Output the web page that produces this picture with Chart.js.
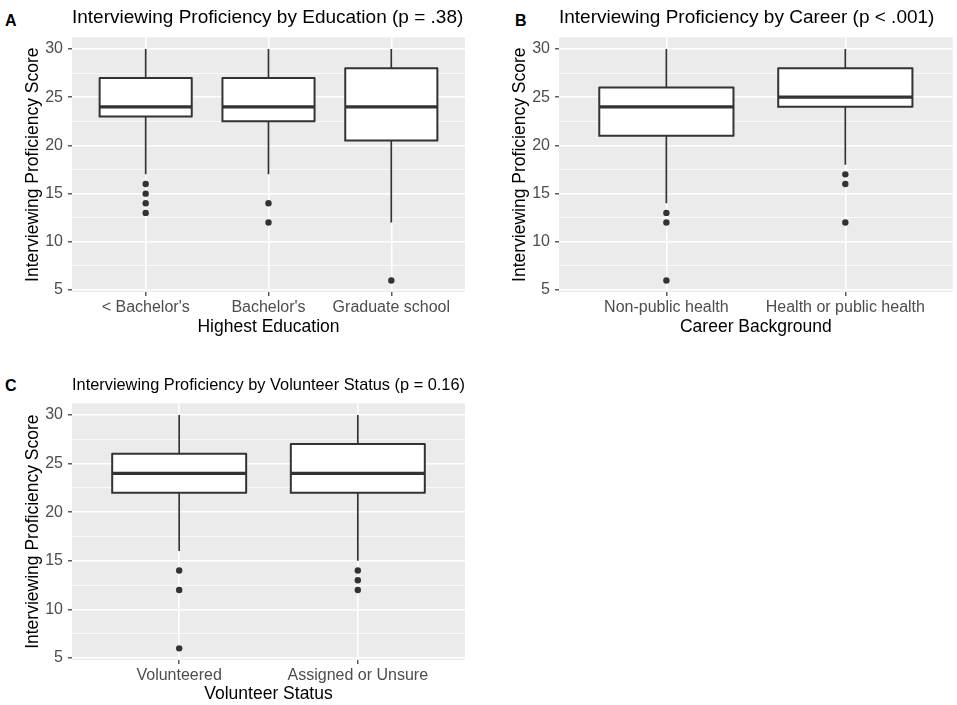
<!DOCTYPE html>
<html>
<head>
<meta charset="utf-8">
<script src="https://cdn.jsdelivr.net/npm/chart.js@4.4.0/dist/chart.umd.min.js"></script>
<style>
  body { margin: 0; background: #fff; width: 957px; height: 705px; position: relative; overflow: hidden;
         font-family: 'Liberation Sans', Arial, sans-serif; }
  .panel { position: absolute; }
  .tag { position: absolute; font-weight: bold; font-size: 16px; line-height: 16px; color: #000; }
</style>
</head>
<body>
<div class="tag" style="left:5px;top:12.5px">A</div>
<div class="tag" style="left:515px;top:12.5px">B</div>
<div class="tag" style="left:5px;top:378px">C</div>
<div class="panel" style="left:0;top:0;width:478px;height:345px"><canvas id="chartA"></canvas></div>
<div class="panel" style="left:478px;top:0;width:479px;height:345px"><canvas id="chartB"></canvas></div>
<div class="panel" style="left:0;top:355px;width:478px;height:350px"><canvas id="chartC"></canvas></div>
<script>
// A: by highest education
const eduCats = ["< Bachelor's", "Bachelor's", "Graduate school"];
const eduMin = [17, 17, 12];
const eduQ1 = [23, 22.5, 20.5];
const eduMed = [24, 24, 24];
const eduQ3 = [27, 27, 28];
const eduMax = [30, 30, 30];
const eduOut = [[16, 15, 14, 13], [14, 12], [6]];

// B: by career background
const carCats = ['Non-public health', 'Health or public health'];
const carMin = [14, 18];
const carQ1 = [21, 24];
const carMed = [24, 25];
const carQ3 = [26, 28];
const carMax = [30, 30];
const carOut = [[13, 12, 6], [17, 16, 12]];

// C: by volunteer status
const volCats = ['Volunteered', 'Assigned or Unsure'];
const volMin = [16, 15];
const volQ1 = [22, 22];
const volMed = [24, 24];
const volQ3 = [26, 27];
const volMax = [30, 30];
const volOut = [[14, 12, 6], [14, 13, 12]];

const yTicks = [5, 10, 15, 20, 25, 30];
// minor grid lines half way between the labelled ticks
const yGrid = yTicks.flatMap((v, i) => i ? [v - 2.5, v] : [v]);

Chart.defaults.font.family = "'Liberation Sans', Arial, sans-serif";

const DARK = '#333333';
const HALF_BOX = 0.375;

// grey panel behind the grid, like ggplot
const panelBg = {
  id: 'panelBg',
  beforeDraw(chart) {
    const { ctx, chartArea: a } = chart;
    ctx.save();
    ctx.fillStyle = '#EBEBEB';
    ctx.fillRect(a.left, a.top, a.width, a.height);
    ctx.restore();
  }
};

function boxDatasets(cats, lo, q1, med, q3, hi, out) {
  const sets = [];
  const whiskers = [];
  const medians = [];
  const points = [];
  cats.forEach((c, i) => {
    const x = i + 1;
    whiskers.push({ x, y: hi[i] }, { x, y: q3[i] }, { x, y: null },
                  { x, y: q1[i] }, { x, y: lo[i] }, { x, y: null });
    medians.push({ x: x - HALF_BOX, y: med[i] }, { x: x + HALF_BOX, y: med[i] }, { x, y: null });
    out[i].forEach(v => points.push({ x, y: v }));
    sets.push({
      data: [
        { x: x - HALF_BOX, y: q1[i] }, { x: x + HALF_BOX, y: q1[i] },
        { x: x + HALF_BOX, y: q3[i] }, { x: x - HALF_BOX, y: q3[i] },
        { x: x - HALF_BOX, y: q1[i] }
      ],
      fill: 'shape', backgroundColor: '#fff', borderColor: DARK, borderWidth: 2,
      borderCapStyle: 'square', borderJoinStyle: 'round', pointRadius: 0, order: 2
    });
  });
  sets.push({ data: whiskers, borderColor: DARK, borderWidth: 1.7, pointRadius: 0, fill: false, order: 3 });
  sets.push({ data: medians, borderColor: DARK, borderWidth: 3.2, pointRadius: 0, fill: false, order: 1 });
  sets.push({ data: points, showLine: false, pointRadius: 3.2, pointBackgroundColor: DARK,
              pointBorderWidth: 0, order: 0 });
  return sets;
}

function drawPanel(id, cats, datasets, cfg) {
  new Chart(document.getElementById(id), {
    type: 'line',
    data: { datasets: datasets },
    options: {
      responsive: true,
      maintainAspectRatio: false,
      animation: false,
      events: [],
      layout: { padding: { left: 0, right: cfg.padRight, top: 0, bottom: 0 } },
      plugins: {
        legend: { display: false },
        tooltip: { enabled: false },
        title: {
          display: true, text: cfg.title, align: 'start', fullSize: false, color: '#000',
          font: { size: cfg.titleSize, weight: 'normal' },
          padding: { top: cfg.titleTop, bottom: cfg.titleBottom }
        }
      },
      scales: {
        x: {
          type: 'linear',
          min: 0.4,
          max: cats.length + 0.6,
          afterBuildTicks: s => { s.ticks = cats.map((c, i) => ({ value: i + 1 })); },
          afterFit: s => { s.height = cfg.xHeight; },
          ticks: { callback: v => cats[v - 1], color: '#4D4D4D', font: { size: 16 },
                   padding: 1.5, maxRotation: 0, autoSkip: false },
          grid: { color: '#fff', lineWidth: 1.6, tickColor: DARK, tickLength: 4, tickWidth: 1.2 },
          border: { display: false },
          title: { display: true, text: cfg.xTitle, color: '#000', font: { size: 17.5 },
                   padding: { top: 0, bottom: cfg.xTitleBottom } }
        },
        y: {
          type: 'linear',
          min: 4.8,
          max: 31.2,
          afterBuildTicks: s => { s.ticks = yGrid.map(v => ({ value: v })); },
          afterFit: s => { s.width = cfg.yWidth; },
          ticks: { callback: v => yTicks.includes(v) ? String(v) : '', color: '#4D4D4D',
                   font: { size: 16 }, padding: 5, autoSkip: false },
          grid: {
            color: '#fff',
            lineWidth: c => yTicks.includes(c.tick.value) ? 1.6 : 0.8,
            tickColor: c => yTicks.includes(c.tick.value) ? DARK : 'rgba(0,0,0,0)',
            tickLength: 4,
            tickWidth: 1.2
          },
          border: { display: false },
          title: { display: true, text: 'Interviewing Proficiency Score', color: '#000',
                   font: { size: 17.5 }, padding: { top: cfg.yTitleTop, bottom: 0 } }
        }
      }
    },
    plugins: [panelBg]
  });
}

drawPanel('chartA', eduCats, boxDatasets(eduCats, eduMin, eduQ1, eduMed, eduQ3, eduMax, eduOut), {
  title: 'Interviewing Proficiency by Education (p = .38)', titleSize: 19, titleTop: 6.6, titleBottom: 8,
  xTitle: 'Highest Education', xHeight: 53, xTitleBottom: 7.5, yWidth: 72, yTitleTop: 22.5, padRight: 13
});

drawPanel('chartB', carCats, boxDatasets(carCats, carMin, carQ1, carMed, carQ3, carMax, carOut), {
  title: 'Interviewing Proficiency by Career (p < .001)', titleSize: 19, titleTop: 6.6, titleBottom: 8,
  xTitle: 'Career Background', xHeight: 53, xTitleBottom: 7.5, yWidth: 81, yTitleTop: 31.5, padRight: 4.3
});

drawPanel('chartC', volCats, boxDatasets(volCats, volMin, volQ1, volMed, volQ3, volMax, volOut), {
  title: 'Interviewing Proficiency by Volunteer Status (p = 0.16)', titleSize: 16.4, titleTop: 20.2, titleBottom: 8.4,
  xTitle: 'Volunteer Status', xHeight: 45, xTitleBottom: 0, yWidth: 72, yTitleTop: 22.5, padRight: 13
});
</script>
</body>
</html>
